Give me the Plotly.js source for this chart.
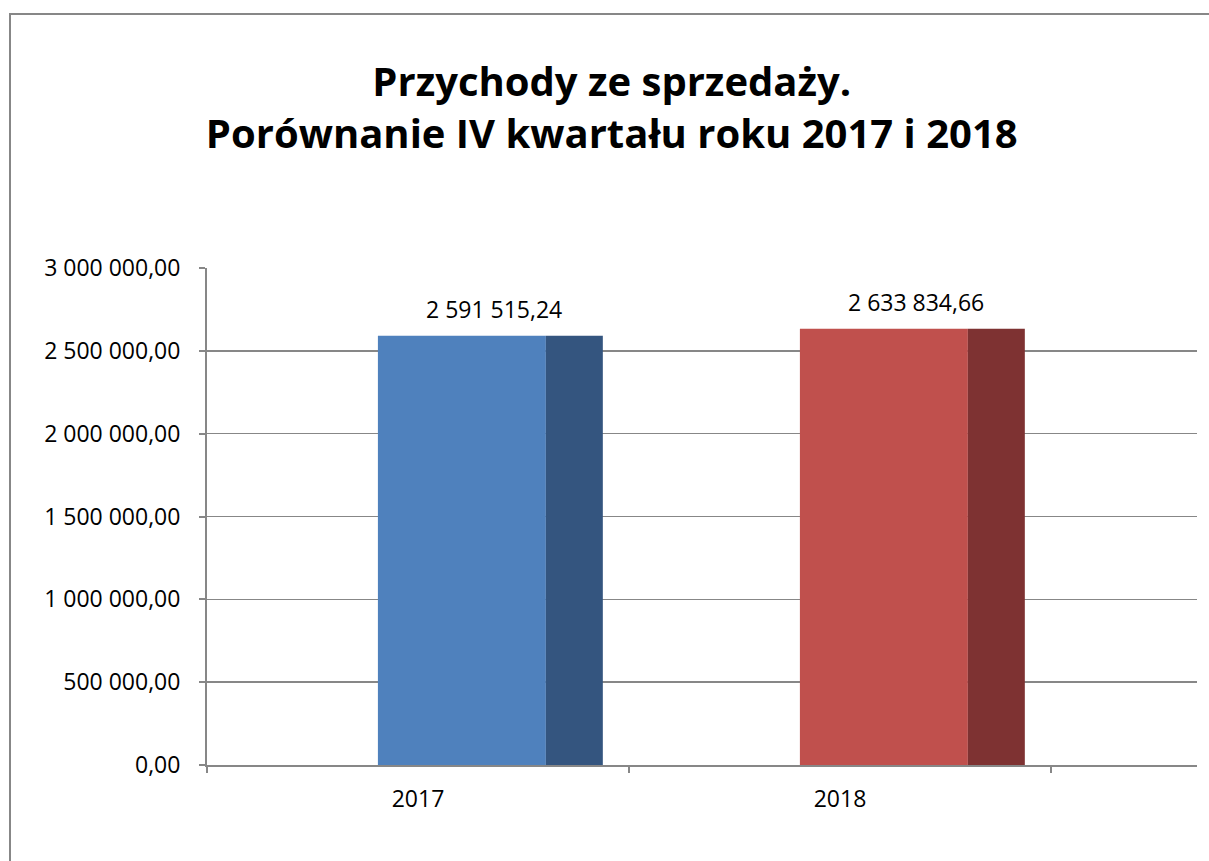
<!DOCTYPE html>
<html>
<head>
<meta charset="utf-8">
<script src="https://cdn.plot.ly/plotly-3.0.1.min.js"></script>
<style>
  html, body { margin: 0; padding: 0; background: #fff; overflow: hidden; }
  #wrap { position: relative; width: 1209px; height: 861px; overflow: hidden; }
  #chart { position: absolute; left: 0; top: 0; width: 1209px; height: 861px; }
  #frame { position: absolute; left: 9px; top: 13px; width: 1220px; height: 860px;
           border-left: 2px solid #878787; border-top: 2px solid #878787; pointer-events: none; }
</style>
</head>
<body>
<div id="wrap">
  <div id="chart"></div>
  <div id="frame"></div>
</div>
<script>
const categories = ['2017', '2018'];
const values = [2591515.24, 2633834.66];
const frontColors = ['#4F81BD', '#C0504D'];
const sideColors = ['#34557F', '#7E3232'];
const titleText = '<b>Przychody ze sprzedaży.</b><br><b>Porównanie IV kwartału roku 2017 i 2018</b>';

function fmt(v) {
  const parts = v.toFixed(2).split('.');
  const intPart = parts[0].replace(/\B(?=(\d{3})+(?!\d))/g, ' ');
  return intPart + ',' + parts[1];
}

const FONT = 'Open Sans, Noto Sans, sans-serif';

const front = {
  type: 'bar', x: categories, y: values,
  width: 0.398, offset: -0.095,
  marker: { color: frontColors, line: { width: 0 } },
  hoverinfo: 'none'
};
const side = {
  type: 'bar', x: categories, y: values,
  width: 0.135, offset: 0.303,
  marker: { color: sideColors, line: { width: 0 } },
  hoverinfo: 'none'
};

const annotations = categories.map((c, i) => ({
  x: i + 0.18, y: values[i], xref: 'x', yref: 'y',
  text: fmt(values[i]), showarrow: false,
  yshift: 27, font: { family: FONT, size: 23, color: '#000' }
}));

const layout = {
  width: 1209, height: 861,
  paper_bgcolor: '#fff', plot_bgcolor: '#fff',
  margin: { l: 207, r: 12, t: 268, b: 96, pad: 0 },
  showlegend: false,
  barmode: 'overlay',
  separators: ', ',
  title: {
    text: titleText,
    x: 0.506, xanchor: 'center',
    y: 0.889, yanchor: 'top',
    font: { family: FONT, size: 40, color: '#000' }
  },
  xaxis: {
    type: 'category',
    range: [-0.5, 1.846],
    tickson: 'boundaries',
    ticks: 'outside', ticklen: 6, tickwidth: 2, tickcolor: '#878787',
    showline: true, linecolor: '#878787', linewidth: 2,
    showgrid: false, zeroline: false,
    tickfont: { family: FONT, size: 23, color: '#000' },
    ticklabelstandoff: 12
  },
  yaxis: {
    range: [0, 3000000],
    dtick: 500000, tick0: 0,
    tickformat: ',.2f',
    ticks: 'outside', ticklen: 6, tickwidth: 2, tickcolor: '#878787',
    showline: true, linecolor: '#878787', linewidth: 2,
    showgrid: true, gridcolor: '#878787', gridwidth: 1.5,
    zeroline: false,
    tickfont: { family: FONT, size: 23, color: '#000' },
    ticklabelstandoff: 14
  },
  annotations: annotations
};

Plotly.newPlot('chart', [front, side], layout, { displayModeBar: false, staticPlot: true });
</script>
</body>
</html>
